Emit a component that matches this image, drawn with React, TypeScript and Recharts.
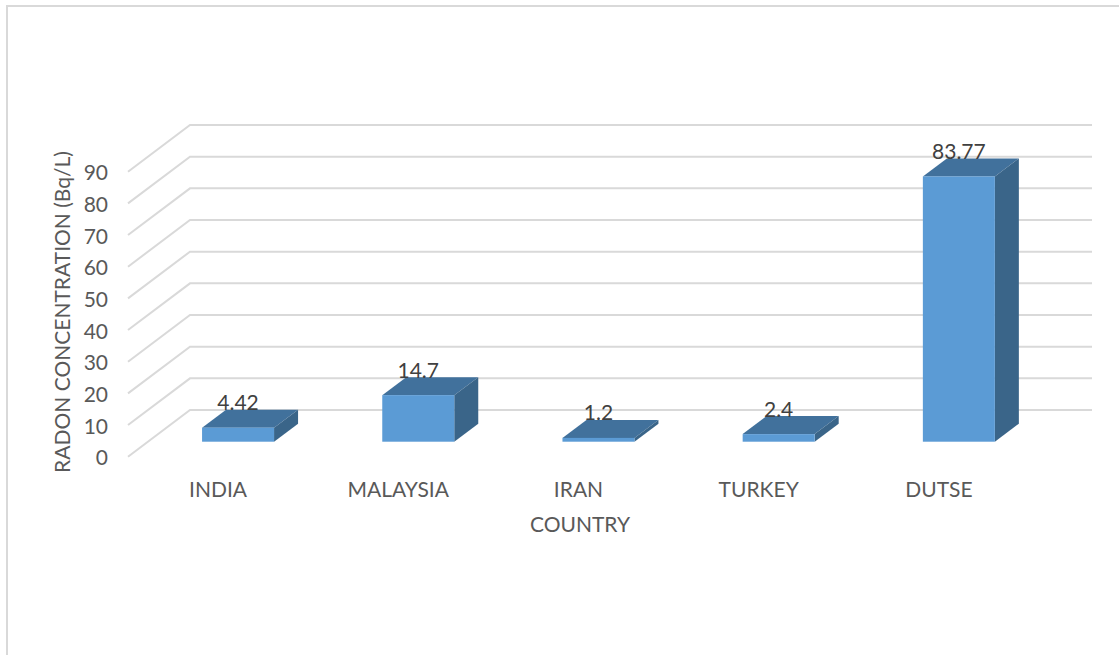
import React from 'react';
import { BarChart, Bar, XAxis, YAxis, CartesianGrid, LabelList } from 'recharts';

const countries = ['INDIA', 'MALAYSIA', 'IRAN', 'TURKEY', 'DUTSE'];
const radonValues = [4.42, 14.7, 1.2, 2.4, 83.77];
const yTicks = [0, 10, 20, 30, 40, 50, 60, 70, 80, 90];
const yTitle = 'RADON CONCENTRATION (Bq/L)';
const xTitle = 'COUNTRY';

const data = countries.map((c, i) => ({ name: c, value: radonValues[i] }));

const W = 1119;
const H = 655;
// perspective offsets
const FRONT_DX = -20; // front plane relative to bar plane
const FRONT_DY = 15;
const BACK_DY = -31.7;
const BAR_DX = 24;
const BAR_DY = 18;
const FONT = 'Lato, "Open Sans", sans-serif';
const FS = 21;
const TXT = '#595959';

const GridLine = (props: any) => {
  const { y1 } = props;
  const y = y1;
  const fx = 128;
  const bx = 190;
  const ex = 1092;
  return (
    <path
      d={`M${fx},${y + FRONT_DY} L${bx},${y + BACK_DY} L${ex},${y + BACK_DY}`}
      stroke="#d9d9d9"
      strokeWidth={2}
      fill="none"
    />
  );
};

const Bar3D = (props: any) => {
  const { x, y, width, height } = props;
  if (width == null) return null;
  return (
    <g>
      <polygon
        points={`${x},${y} ${x + BAR_DX},${y - BAR_DY} ${x + width + BAR_DX},${y - BAR_DY} ${x + width},${y}`}
        fill="#41719c"
      />
      <polygon
        points={`${x + width},${y} ${x + width + BAR_DX},${y - BAR_DY} ${x + width + BAR_DX},${y + height - BAR_DY} ${x + width},${y + height}`}
        fill="#3a6589"
      />
      <rect x={x} y={y} width={width} height={height} fill="#5b9bd5" />
    </g>
  );
};

const YTick = (props: any) => {
  const { y, payload } = props;
  return (
    <text x={108} y={y + FRONT_DY} textAnchor="end" dominantBaseline="central" fontFamily={FONT} fontSize={FS} fill={TXT}>
      {payload.value}
    </text>
  );
};

const XTick = (props: any) => {
  const { x, payload } = props;
  return (
    <text x={x + FRONT_DX} y={488} textAnchor="middle" dominantBaseline="central" fontFamily={FONT} fontSize={FS} fill={TXT}>
      {payload.value}
    </text>
  );
};

const ValueLabel = (props: any) => {
  const { x, y, width, value } = props;
  return (
    <text x={x + width / 2} y={y - 26} textAnchor="middle" dominantBaseline="central" fontFamily={FONT} fontSize={FS} fill="#404040">
      {value}
    </text>
  );
};

export default function App() {
  return (
    <div style={{ position: 'absolute', left: 0, top: 0, width: W, height: H, background: '#fff' }}>
      <svg width={W} height={H} style={{ position: 'absolute', left: 0, top: 0 }}>
        <path d={`M7,${H} L7,6 L${W},6`} stroke="#d9d9d9" strokeWidth={2} fill="none" />
      </svg>
      <div style={{ position: 'absolute', left: 0, top: 0 }}>
        <BarChart
          width={W}
          height={H}
          data={data}
          margin={{ top: 156.7, right: 70, bottom: 183.3, left: 88 }}
          barCategoryGap="30%"
        >
          <CartesianGrid vertical={false} horizontal={<GridLine />} stroke="#d9d9d9" />
          <XAxis
            dataKey="name"
            axisLine={false}
            tickLine={false}
            tick={<XTick />}
            height={30}
            label={{
              content: () => (
                <text x={580} y={523} textAnchor="middle" dominantBaseline="central" fontFamily={FONT} fontSize={FS} fill={TXT}>
                  {xTitle}
                </text>
              ),
            }}
          />
          <YAxis
            domain={[0, 90]}
            ticks={yTicks}
            axisLine={false}
            tickLine={false}
            width={60}
            tick={<YTick />}
            label={{
              content: () => (
                <text
                  x={61}
                  y={312}
                  textAnchor="middle"
                  dominantBaseline="central"
                  transform="rotate(-90 61 312)"
                  fontFamily={FONT}
                  fontSize={FS}
                  fill={TXT}
                >
                  {yTitle}
                </text>
              ),
            }}
          />
          <Bar dataKey="value" shape={<Bar3D />} isAnimationActive={false}>
            <LabelList dataKey="value" content={<ValueLabel />} />
          </Bar>
        </BarChart>
      </div>
    </div>
  );
}
